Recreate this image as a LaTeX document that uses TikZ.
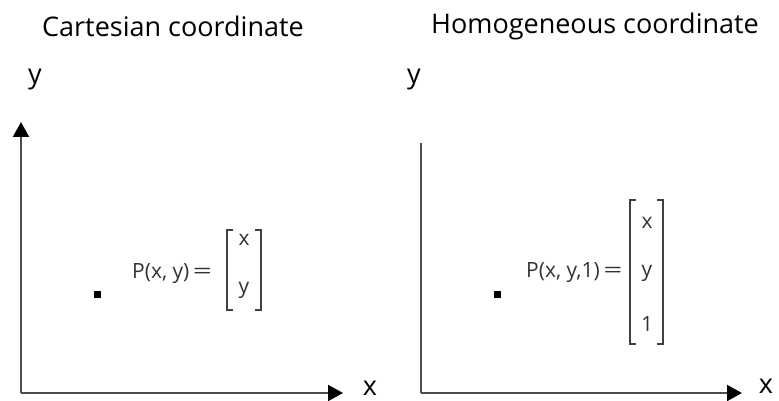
\documentclass[tikz,border=0pt]{standalone}
\usepackage{fontspec}
\usepackage{graphicx}
\setmainfont{Open Sans}
\usetikzlibrary{arrows.meta}
\newcommand{\wideeq}{\scalebox{1.6}[1]{=}}
\begin{document}
\begin{tikzpicture}[x=1pt,y=-1pt,
 axis/.style={draw=black!70, line width=2.2pt},
 tip/.style={-{Triangle[length=15pt,width=16pt,color=black,fill=black]}},
 title/.style={font=\fontsize{27}{30}\selectfont, inner sep=0},
 lbl/.style={font=\fontsize{27}{30}\selectfont, inner sep=0},
 eq/.style={font=\fontsize{21}{24}\selectfont, inner sep=0, text=black!80},
 br/.style={draw=black!75, line width=1.2pt},
 dot/.style={fill=black, minimum size=7pt, inner sep=0}]
\useasboundingbox (0,0) rectangle (779,401);
% titles
\node[title] (t1) at (173,26) {Cartesian coordinate};
\node[title] (t2) at (595,26) {Homogeneous coordinate};
% left plot
\coordinate (o1) at (21,393);
\coordinate (yt1) at (21,122);
\coordinate (xt1) at (343,393);
\draw[axis,tip] (o1) -- (yt1);
\draw[axis,tip] (o1) -- (xt1);
\node[lbl] (ylab1) at (35,80) {y};
\node[lbl] (xlab1) at (370,388) {x};
\node[dot] (p1) at (97,294) {};
\node[eq,anchor=west] (e1) at (132,274) {P(x, y)\,\wideeq};
\node[eq] (m1x) at (244,240) {x};
\node[eq] (m1y) at (244,290) {y};
\draw[br] (233,230) -- (227,230) -- (227,310) -- (233,310);
\draw[br] (255,230) -- (261,230) -- (261,310) -- (255,310);
% right plot
\coordinate (o2) at (421,393);
\coordinate (yt2) at (421,143);
\coordinate (xt2) at (742,393);
\draw[axis] (o2) -- (yt2);
\draw[axis,tip] (o2) -- (xt2);
\node[lbl] (ylab2) at (414,80) {y};
\node[lbl] (xlab2) at (766,386) {x};
\node[dot] (p2) at (497,294) {};
\node[eq,anchor=west] (e2) at (526,273) {P(x, y,1)\,\wideeq};
\node[eq] (m2x) at (647,223) {x};
\node[eq] (m2y) at (647,273) {y};
\node[eq] (m2z) at (647,324) {1};
\draw[br] (636,200) -- (630,200) -- (630,344) -- (636,344);
\draw[br] (657,200) -- (663,200) -- (663,344) -- (657,344);
\end{tikzpicture}
\end{document}
